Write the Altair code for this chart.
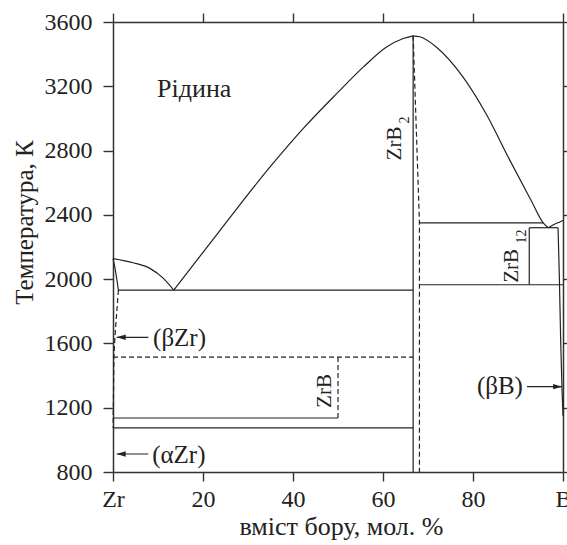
import altair as alt
import pandas as pd

FONT = "Liberation Serif"
INK = "#222222"
AXC = "#333333"

# ---------------- axes ----------------
x_ticks = [0, 20, 40, 60, 80, 100]
t_ticks = [800, 1200, 1600, 2000, 2400, 2800, 3200, 3600]
x_title = "вміст бору, мол. %"
y_title = "Температура, К"

# ---------------- curved boundaries (x: mol.% B, T: K) ----------------
liq_zr_x = [0, 4.5, 8.2, 11.2, 13.5]
liq_zr_t = [2128, 2102, 2067, 2005, 1932]
sol_zr_x = [0, 0.5, 0.9, 1.2]
sol_zr_t = [2128, 2060, 1990, 1932]
liq_l_x = [13.5, 23.8, 34.9, 42.3, 49.7, 55.6, 60.7, 64.5, 66.7]
liq_l_t = [1932, 2304, 2698, 2938, 3154, 3319, 3443, 3497, 3514]
liq_r_x = [66.7, 68.2, 71.9, 77.8, 82.9, 88.2, 92.9, 95.6, 96.7]
liq_r_t = [3514, 3508, 3443, 3257, 3029, 2739, 2491, 2350, 2320]
liq_b_x = [96.7, 98.2, 99.3, 100]
liq_b_t = [2320, 2343, 2356, 2365]
solv_b_x = [98.9, 99.2, 99.5, 99.8, 100]
solv_b_t = [2320, 2000, 1600, 1300, 1150]

# ---------------- straight solid lines ----------------
seg_x1 = [1.2, 68.1, 92.5, 92.5, 68.1, 66.7, 0, 0]
seg_x2 = [66.7, 95.6, 98.9, 92.5, 100, 66.7, 50, 66.7]
seg_t1 = [1932, 2350, 2320, 1965, 1965, 800, 1136, 1074]
seg_t2 = [1932, 2350, 2320, 2320, 1965, 3514, 1136, 1074]

# ---------------- dashed lines ----------------
dash_zrb2_x = [66.7, 68.1, 68.1]
dash_zrb2_t = [3514, 2350, 800]
dash_bzr_x = [1.2, 0.45, 0.2, 0.05, 0.05]
dash_bzr_t = [1932, 1650, 1515, 1140, 1074]
dseg_x1 = [0, 50]
dseg_x2 = [66.7, 50]
dseg_t1 = [1515, 1515]
dseg_t2 = [1515, 1136]

# ---------------- arrows ----------------
arr_x1 = [7.85, 7.85, 92.0]
arr_x2 = [0.82, 0.82, 99.8]
arr_t = [1638, 912, 1331]
arr_dir = ["left", "left", "right"]

# ---------------- labels ----------------
phase_lbl = ["Рідина", "(βZr)", "(αZr)"]
phase_x = [9.8, 8.9, 8.7]
phase_t = [3133, 1636, 903]
phase_base = ["alphabetic", "middle", "middle"]
bb_lbl = ["(βB)"]
bb_x = [91.1]
bb_t = [1335]

cmp_lbl = ["ZrB", "ZrB", "ZrB"]
cmp_x = [62.7, 88.6, 47.1]
cmp_t = [2844, 2082, 1304]
sub_lbl = ["2", "12"]
sub_x = [64.9, 90.8]
sub_t = [2990, 2265]

XS = alt.Scale(domain=[0, 100], nice=False, zero=False)
YS = alt.Scale(domain=[800, 3600], nice=False, zero=False)


def X(f, axis=None):
    return alt.X(f, type="quantitative", scale=XS, axis=axis)


def Y(f, axis=None):
    return alt.Y(f, type="quantitative", scale=YS, axis=axis)


def poly(name, xs_, ts_):
    return pd.DataFrame({"seg": name, "i": list(range(len(xs_))), "x": xs_, "t": ts_})


common_ax = dict(
    tickColor=AXC, tickWidth=1.4, domainColor=AXC, domainWidth=1.5, grid=False,
    labelFont=FONT, labelColor=INK, labelFlush=False, labelOverlap=False,
    titleFont=FONT, titleFontWeight="normal", titleColor=INK,
)

axis_bottom = alt.Axis(
    orient="bottom", values=x_ticks, tickSize=9, labelPadding=6, labelFontSize=24,
    labelExpr="datum.value == 0 ? 'Zr' : datum.value == 100 ? 'B' : datum.label",
    title=x_title, titleFontSize=26, titleX=228, titleY=62, titleBaseline="alphabetic",
    titleAlign="center", **common_ax)
axis_left = alt.Axis(
    orient="left", values=t_ticks, format="d", tickSize=10, labelPadding=11, labelFontSize=24,
    title=y_title, titleFontSize=25, titleX=-81, titleY=200, titleAngle=270,
    titleBaseline="alphabetic", titleAlign="center", **common_ax)
axis_top = alt.Axis(orient="top", values=x_ticks, tickSize=9, labels=False, title="", **common_ax)
axis_right = alt.Axis(orient="right", values=t_ticks, tickSize=9, labels=False, title="", **common_ax)

frame_df = pd.DataFrame({"x": [0, 100], "t": [800, 3600]})
bottom_left = alt.Chart(frame_df).mark_point(opacity=0).encode(
    x=X("x", axis_bottom), y=Y("t", axis_left))
top_right = alt.Chart(frame_df).mark_point(opacity=0).encode(
    x=X("x", axis_top), y=Y("t", axis_right))

curves_df = pd.concat([
    poly("liq_zr", liq_zr_x, liq_zr_t),
    poly("sol_zr", sol_zr_x, sol_zr_t),
    poly("liq_l", liq_l_x, liq_l_t),
    poly("liq_r", liq_r_x, liq_r_t),
    poly("liq_b", liq_b_x, liq_b_t),
    poly("solv_b", solv_b_x, solv_b_t),
])
curves = alt.Chart(curves_df).mark_line(
    color=INK, strokeWidth=1.2, interpolate="monotone").encode(
    x=X("x"), y=Y("t"), detail="seg:N", order="i:Q")

seg_df = pd.DataFrame({"x1": seg_x1, "x2": seg_x2, "t1": seg_t1, "t2": seg_t2})
segs = alt.Chart(seg_df).mark_rule(color=INK, strokeWidth=1.2).encode(
    x=X("x1"), x2="x2", y=Y("t1"), y2="t2")

dpoly_df = pd.concat([
    poly("zrb2", dash_zrb2_x, dash_zrb2_t),
    poly("bzr", dash_bzr_x, dash_bzr_t),
])
dpoly = alt.Chart(dpoly_df).mark_line(
    color=INK, strokeWidth=1.2, strokeDash=[5, 3]).encode(
    x=X("x"), y=Y("t"), detail="seg:N", order="i:Q")

dseg_df = pd.DataFrame({"x1": dseg_x1, "x2": dseg_x2, "t1": dseg_t1, "t2": dseg_t2})
dsegs = alt.Chart(dseg_df).mark_rule(color=INK, strokeWidth=1.2, strokeDash=[5, 3]).encode(
    x=X("x1"), x2="x2", y=Y("t1"), y2="t2")

arr_df = pd.DataFrame({"x1": arr_x1, "x2": arr_x2, "t": arr_t, "dir": arr_dir})
shafts = alt.Chart(arr_df).mark_rule(color=INK, strokeWidth=1.2).encode(
    x=X("x1"), x2="x2", y=Y("t"))
head_l = alt.Chart(arr_df[arr_df["dir"] == "left"]).mark_point(
    shape="M0,0L2,-0.6L2,0.6Z", filled=True, color=INK, size=81, opacity=1).encode(
    x=X("x2"), y=Y("t"))
head_r = alt.Chart(arr_df[arr_df["dir"] == "right"]).mark_point(
    shape="M0,0L-2,-0.6L-2,0.6Z", filled=True, color=INK, size=81, opacity=1).encode(
    x=X("x2"), y=Y("t"))

ph_df = pd.DataFrame({"x": phase_x, "t": phase_t, "label": phase_lbl, "b": phase_base})
ph1 = alt.Chart(ph_df[ph_df["b"] == "alphabetic"]).mark_text(
    font=FONT, fontSize=26, color=INK, align="left", baseline="alphabetic").encode(
    x=X("x"), y=Y("t"), text="label:N")
ph2 = alt.Chart(ph_df[ph_df["b"] == "middle"]).mark_text(
    font=FONT, fontSize=25, color=INK, align="left", baseline="middle").encode(
    x=X("x"), y=Y("t"), text="label:N")
bb = alt.Chart(pd.DataFrame({"x": bb_x, "t": bb_t, "label": bb_lbl})).mark_text(
    font=FONT, fontSize=25, color=INK, align="right", baseline="middle").encode(
    x=X("x"), y=Y("t"), text="label:N")

cmp = alt.Chart(pd.DataFrame({"x": cmp_x, "t": cmp_t, "label": cmp_lbl})).mark_text(
    font=FONT, fontSize=21, color=INK, align="center", baseline="middle", angle=270).encode(
    x=X("x"), y=Y("t"), text="label:N")
sub = alt.Chart(pd.DataFrame({"x": sub_x, "t": sub_t, "label": sub_lbl})).mark_text(
    font=FONT, fontSize=14, color=INK, align="center", baseline="middle", angle=270).encode(
    x=X("x"), y=Y("t"), text="label:N")

chart = alt.layer(
    bottom_left, top_right, curves, segs, dpoly, dsegs, shafts, head_l, head_r,
    ph1, ph2, bb, cmp, sub,
).resolve_axis(x="independent", y="independent").properties(
    width=450, height=450, autosize="none",
    padding={"left": 113, "top": 22, "right": 4, "bottom": 73},
    background="white",
).configure_view(stroke=None)

chart.save("out.html", embed_options={"renderer": "svg", "actions": False})
